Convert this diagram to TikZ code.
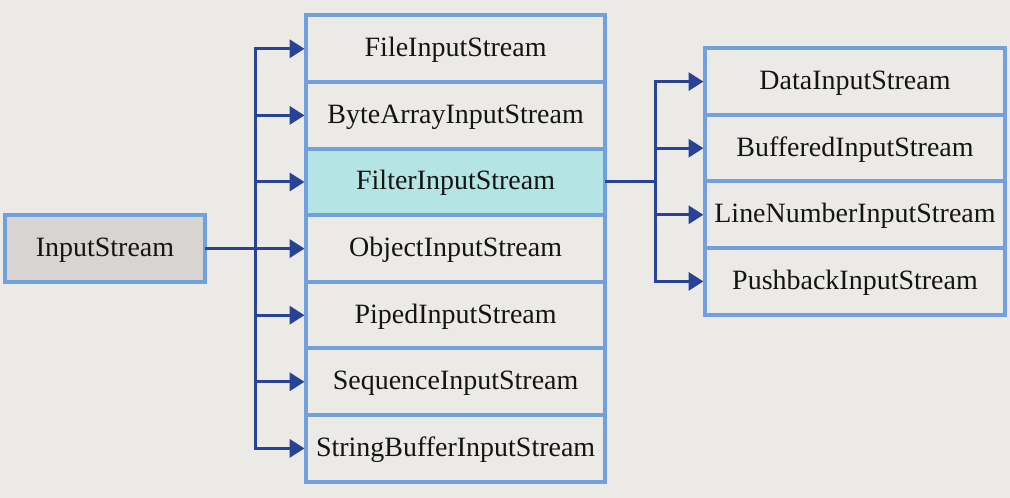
\documentclass[tikz,border=0pt]{standalone}
\usepackage{fontspec}
\setmainfont{Liberation Serif}
\usetikzlibrary{positioning}
\usetikzlibrary{calc}
\usetikzlibrary{arrows.meta}
\definecolor{paper}{RGB}{236,234,231}
\definecolor{frameblue}{RGB}{112,160,222}
\definecolor{linkblue}{RGB}{40,66,150}
\definecolor{rootgray}{RGB}{216,212,209}
\definecolor{filtercyan}{RGB}{180,229,228}
\tikzset{
	stream/.style={
		draw=frameblue, line width=0.1cm, fill=paper, outer sep=0pt,
		inner sep=0pt, text=black!92, minimum height=1.665cm,
		text height=0.5cm, text depth=0.1cm
	},
	root stream/.style={stream, fill=rootgray, minimum width=5cm},
	sub stream/.style={stream, minimum width=7.475cm},
	filter stream/.style={sub stream, fill=filtercyan},
	deco stream/.style={stream, minimum width=7.5cm},
	fork to/.style={
		to path={(\tikztostart) -| ($(\tikztostart)!0.5!(\tikztotarget)$) |- (\tikztotarget)}
	},
	extends/.style={
		draw=linkblue, line width=0.075cm, -{Triangle[length=0.37cm,width=0.45cm]},
		shorten >=0.04cm, fork to
	}
}

\begin{document}
\begin{tikzpicture}[font=\fontsize{19.9}{24}\selectfont, node distance=0pt]
\useasboundingbox[fill=paper] (0,0) rectangle (25.25,-12.45);

\node[root stream] (InputStream) at (2.625,-6.21) {InputStream};

\node[sub stream] (FileInputStream) at (11.39,-1.22) {FileInputStream};
\node[sub stream, below=of FileInputStream] (ByteArrayInputStream) {ByteArrayInputStream};
\node[filter stream, below=of ByteArrayInputStream] (FilterInputStream) {FilterInputStream};
\node[sub stream, below=of FilterInputStream] (ObjectInputStream) {ObjectInputStream};
\node[sub stream, below=of ObjectInputStream] (PipedInputStream) {PipedInputStream};
\node[sub stream, below=of PipedInputStream] (SequenceInputStream) {SequenceInputStream};
\node[sub stream, below=of SequenceInputStream] (StringBufferInputStream) {StringBufferInputStream};

\node[deco stream] (DataInputStream) at (21.375,-2.04) {DataInputStream};
\node[deco stream, below=of DataInputStream] (BufferedInputStream) {BufferedInputStream};
\node[deco stream, below=of BufferedInputStream] (LineNumberInputStream) {LineNumberInputStream};
\node[deco stream, below=of LineNumberInputStream] (PushbackInputStream) {PushbackInputStream};

\foreach \s in {FileInputStream,ByteArrayInputStream,FilterInputStream,ObjectInputStream,PipedInputStream,SequenceInputStream,StringBufferInputStream}
	\draw[extends] (InputStream.east) to (\s.west);

\foreach \s in {DataInputStream,BufferedInputStream,LineNumberInputStream,PushbackInputStream}
	\draw[extends] (FilterInputStream.east) to (\s.west);

\end{tikzpicture}
\end{document}
